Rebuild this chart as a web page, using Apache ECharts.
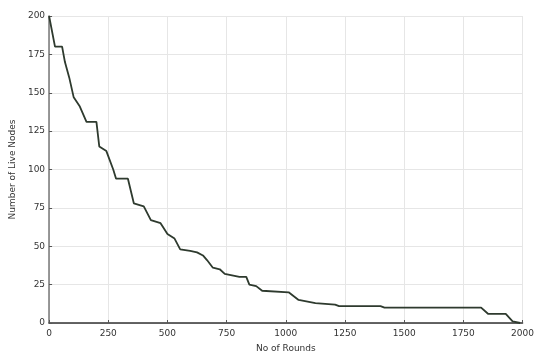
<!DOCTYPE html>
<html>
<head>
<meta charset="utf-8">
<script src="https://cdn.jsdelivr.net/npm/echarts@6/dist/echarts.min.js"></script>
<style>
  html, body { margin: 0; padding: 0; background: #fff; }
  #chart { width: 537px; height: 358px; }
</style>
</head>
<body>
<div id="chart"></div>
<script>
// Live nodes remaining per simulation round
const rounds = [0, 25, 55, 67, 85, 104, 130, 158, 200, 212, 242, 271, 283, 333, 358, 400, 430, 471, 500, 530, 554, 596, 625, 650, 667, 692, 721, 742, 804, 833, 846, 875, 900, 1012, 1054, 1125, 1208, 1225, 1400, 1417, 1825, 1854, 1929, 1958, 1990];
const liveNodes = [200, 180, 180, 170, 160, 147, 141, 131, 131, 115, 112, 100, 94, 94, 78, 76, 67, 65, 58, 55, 48, 47, 46, 44, 41, 36, 35, 32, 30, 30, 25, 24, 21, 20, 15, 13, 12, 11, 11, 10, 10, 6, 6, 1, 0];

const xTicks = [0, 250, 500, 750, 1000, 1250, 1500, 1750, 2000];
const yTicks = [0, 25, 50, 75, 100, 125, 150, 175, 200];

const points = rounds.map((r, i) => [r, liveNodes[i]]);

const font = 'DejaVu Sans';
const chart = echarts.init(document.getElementById('chart'));
chart.setOption({
  animation: false,
  grid: { left: 47, right: 11, top: 16, bottom: 32 },
  xAxis: {
    type: 'value',
    min: xTicks[0],
    max: xTicks[xTicks.length - 1],
    interval: 250,
    name: 'No of Rounds',
    nameLocation: 'middle',
    nameGap: 21,
    nameTextStyle: { fontFamily: font, fontSize: 9, color: '#333' },
    axisLine: { lineStyle: { color: '#333', width: 1.5 } },
    axisTick: { inside: true, length: 3, lineStyle: { color: '#555' } },
    axisLabel: { fontFamily: font, fontSize: 9, color: '#333', margin: 6, formatter: v => String(v) },
    splitLine: { show: true, lineStyle: { color: '#e6e6e6', width: 1 } }
  },
  yAxis: {
    type: 'value',
    min: yTicks[0],
    max: yTicks[yTicks.length - 1],
    interval: 25,
    name: 'Number of Live Nodes',
    nameLocation: 'middle',
    nameGap: 28,
    nameTextStyle: { fontFamily: font, fontSize: 9, color: '#333' },
    axisLine: { show: true, lineStyle: { color: '#777', width: 1.5 } },
    axisTick: { show: true, inside: true, length: 3, lineStyle: { color: '#555' } },
    axisLabel: { fontFamily: font, fontSize: 9, color: '#333', margin: 4, formatter: v => String(v) },
    splitLine: { show: true, lineStyle: { color: '#e6e6e6', width: 1 } }
  },
  series: [{
    type: 'line',
    data: points,
    showSymbol: false,
    lineStyle: { color: '#2e3a2e', width: 1.8 }
  }]
});
</script>
</body>
</html>
